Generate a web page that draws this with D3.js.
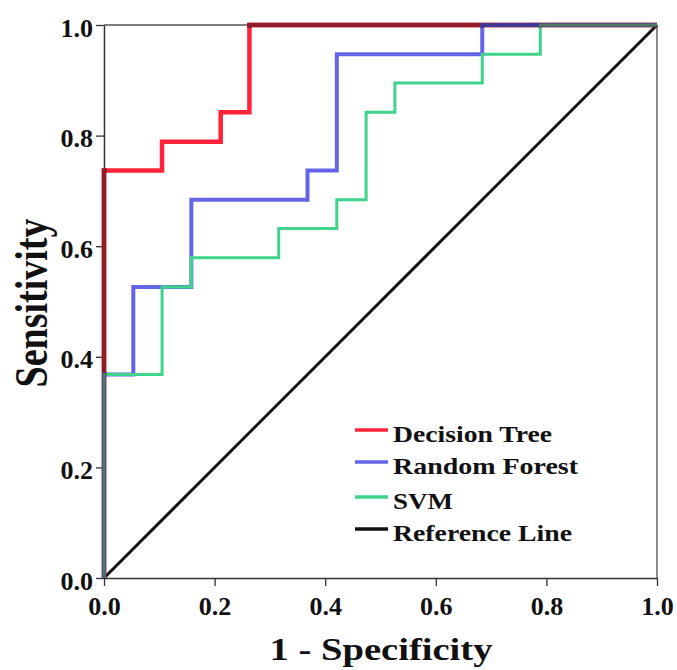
<!DOCTYPE html>
<html><head><meta charset="utf-8">
<script src="https://cdn.jsdelivr.net/npm/d3@7/dist/d3.min.js"></script>
<style>
html,body{margin:0;padding:0;background:#fff;}
text{font-family:"Liberation Serif","Times New Roman",serif;font-weight:bold;fill:#111;}
</style></head>
<body>
<svg id="chart" width="677" height="670"></svg>
<script>
// ---- data ----
const seriesNames = ["Decision Tree", "Random Forest", "SVM", "Reference Line"];
const dtFpr  = [0, 0, 0.105, 0.211, 0.263, 1];
const dtTpr  = [0, 0.737, 0.789, 0.842, 1, 1];
const rfFpr  = [0, 0, 0.053, 0.158, 0.368, 0.421, 0.684, 1];
const rfTpr  = [0, 0.368, 0.526, 0.684, 0.737, 0.947, 1, 1];
const svmFpr = [0, 0, 0.105, 0.158, 0.316, 0.421, 0.474, 0.526, 0.684, 0.789, 1];
const svmTpr = [0, 0.368, 0.526, 0.579, 0.632, 0.684, 0.842, 0.895, 0.947, 1, 1];
const refFpr = [0, 1];
const refTpr = [0, 1];
const xTicks = [0, 0.2, 0.4, 0.6, 0.8, 1.0];
const yTicks = [0, 0.2, 0.4, 0.6, 0.8, 1.0];
const xTitle = "1 - Specificity";
const yTitle = "Sensitivity";

// ---- styles ----
const colors = ["#ff2238", "#6664e6", "#3fd48c", "#111111"];
const darkColors = ["#921b2a", "#3c3a96", "#4d7866", "#111111"];
const widths = [4.5, 4, 3, 3];

const svg = d3.select("#chart");
const x = d3.scaleLinear().domain([0, 1]).range([104, 657]);
const y = d3.scaleLinear().domain([0, 1]).range([578, 25]);

// frame (top & right)
svg.append("line").attr("x1", x(0)).attr("x2", x(1)).attr("y1", y(1)).attr("y2", y(1))
  .attr("stroke", "#555").attr("stroke-width", 1.5);
svg.append("line").attr("x1", x(1)).attr("x2", x(1)).attr("y1", y(0)).attr("y2", y(1))
  .attr("stroke", "#666").attr("stroke-width", 1.5);

// axes
const fmt = d3.format(".1f");
const gx = svg.append("g").attr("transform", `translate(0,${y(0)})`)
  .call(d3.axisBottom(x).tickValues(xTicks).tickFormat(fmt).tickSize(8).tickSizeOuter(0));
const gy = svg.append("g").attr("transform", `translate(${x(0)},0)`)
  .call(d3.axisLeft(y).tickValues(yTicks).tickFormat(fmt).tickSize(8).tickSizeOuter(0).tickPadding(3));
[gx, gy].forEach(g => {
  g.select(".domain").attr("stroke", "#333").attr("stroke-width", 1.5);
  g.selectAll(".tick line").attr("stroke", "#333").attr("stroke-width", 1.3);
  g.selectAll(".tick text").attr("font-size", 26).attr("fill", "#111")
    .attr("font-family", '"Liberation Serif","Times New Roman",serif').attr("font-weight", "bold");
});
gx.selectAll(".tick text").attr("y", 37).attr("dy", null);
gy.selectAll(".tick text").attr("dy", 11);

// curves
const series = [
  {fpr: dtFpr, tpr: dtTpr},
  {fpr: rfFpr, tpr: rfTpr},
  {fpr: svmFpr, tpr: svmTpr},
];
const stepLine = d3.line().x(d => x(d[0])).y(d => y(d[1])).curve(d3.curveStepAfter);
const pts = s => s.fpr.map((f, i) => [f, s.tpr[i]]);

// diagonal reference
svg.append("path").datum(pts({fpr: refFpr, tpr: refTpr}))
  .attr("d", d3.line().x(d => x(d[0])).y(d => y(d[1])))
  .attr("fill", "none").attr("stroke", colors[3]).attr("stroke-width", widths[3]);

series.forEach((s, i) => {
  svg.append("path").datum(pts(s)).attr("d", stepLine)
    .attr("fill", "none").attr("stroke", colors[i]).attr("stroke-width", widths[i]);
});

// darker overlap along the left and top frame edges
const clip = svg.append("clipPath").attr("id", "edgeClip");
clip.append("rect").attr("x", x(0) - 3).attr("y", y(1) - 3).attr("width", 6).attr("height", y(0) - y(1) + 6);
clip.append("rect").attr("x", x(0) - 3).attr("y", y(1) - 3).attr("width", x(1) - x(0) + 6).attr("height", 6);
const edge = svg.append("g").attr("clip-path", "url(#edgeClip)");
series.forEach((s, i) => {
  edge.append("path").datum(pts(s)).attr("d", stepLine)
    .attr("fill", "none").attr("stroke", darkColors[i]).attr("stroke-width", widths[i]);
});

// axis titles
svg.append("text").attr("x", 381).attr("y", 660).attr("text-anchor", "middle")
  .attr("font-size", 31).attr("textLength", 223).attr("lengthAdjust", "spacingAndGlyphs")
  .text(xTitle);
svg.append("g").attr("transform", "translate(47,303) scale(1.2,1)")
  .append("text").attr("transform", "rotate(-90)").attr("text-anchor", "middle")
  .attr("font-size", 38).text(yTitle);

// legend
const legendRows = [430, 462, 497, 529];
const legendLens = [159, 185, 60, 179];
seriesNames.forEach((name, i) => {
  svg.append("line").attr("x1", 355).attr("x2", 388).attr("y1", legendRows[i]).attr("y2", legendRows[i])
    .attr("stroke", colors[i]).attr("stroke-width", 3.5);
  svg.append("text").attr("x", 393).attr("y", legendRows[i] + 12).attr("font-size", 23.5)
    .attr("textLength", legendLens[i]).attr("lengthAdjust", "spacingAndGlyphs").text(name);
});
</script>
</body></html>
